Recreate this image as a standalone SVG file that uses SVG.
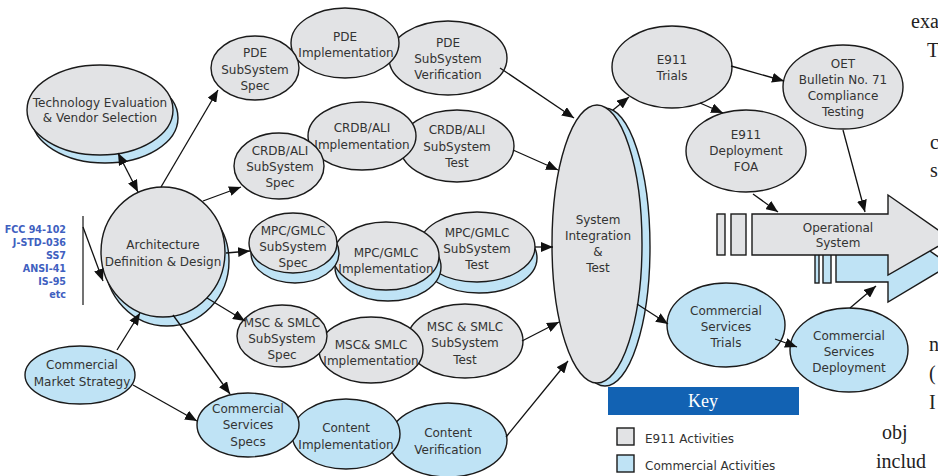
<svg xmlns="http://www.w3.org/2000/svg" width="938" height="476" viewBox="0 0 938 476">
<style>
.g{fill:#e2e3e5;stroke:#1a1a1a;stroke-width:1.4}
.b{fill:#bfe3f5;stroke:#1a1a1a;stroke-width:1.4}
.t{font-family:"DejaVu Sans",sans-serif;font-size:12px;fill:#333;text-anchor:middle}
.l{font-family:"DejaVu Sans",sans-serif;font-size:12px;fill:#333}
.f{font-family:"DejaVu Sans",sans-serif;font-size:9.6px;font-weight:bold;fill:#4060c0;text-anchor:end}
.s{font-family:"Liberation Serif",serif;font-size:20px;fill:#222}
.c{stroke:#111;stroke-width:1.3;fill:none;marker-end:url(#ah)}
</style>
<defs>
<marker id="ah" markerWidth="12" markerHeight="10" refX="12" refY="5" orient="auto-start-reverse" markerUnits="userSpaceOnUse"><path d="M0,0 L12,5 L0,10 z" fill="#111"/></marker>
</defs>
<rect width="938" height="476" fill="#fff"/>

<g id="standards">
<line x1="83" y1="216" x2="83" y2="305" stroke="#444" stroke-width="1.5"/>
<text class="f" x="66" y="233">FCC 94-102</text>
<text class="f" x="66" y="246">J-STD-036</text>
<text class="f" x="66" y="259">SS7</text>
<text class="f" x="66" y="272">ANSI-41</text>
<text class="f" x="66" y="285">IS-95</text>
<text class="f" x="66" y="298">etc</text>
</g>

<g id="tech-eval">
<ellipse class="b" cx="105" cy="118" rx="73" ry="45"/>
<ellipse class="g" cx="100" cy="110" rx="73" ry="45"/>
<text class="t" x="100" y="107">Technology Evaluation</text>
<text class="t" x="100" y="122">&amp; Vendor Selection</text>
</g>

<g id="architecture">
<ellipse class="b" cx="167" cy="261" rx="62" ry="65"/>
<ellipse class="g" cx="163" cy="252" rx="62" ry="65"/>
<text class="t" x="163" y="249">Architecture</text>
<text class="t" x="163" y="266">Definition &amp; Design</text>
</g>

<g id="market-strategy">
<ellipse class="b" cx="80" cy="375" rx="55" ry="29"/>
<text class="t" x="82" y="369">Commercial</text>
<text class="t" x="82" y="386">Market Strategy</text>
</g>

<g id="pde-verif">
<ellipse class="g" cx="448" cy="58" rx="59" ry="37"/>
<text class="t" x="448" y="47">PDE</text>
<text class="t" x="448" y="63">SubSystem</text>
<text class="t" x="448" y="79">Verification</text>
</g>
<g id="pde-impl">
<ellipse class="g" cx="345" cy="43" rx="54" ry="35"/>
<text class="t" x="345" y="41">PDE</text>
<text class="t" x="346" y="57">Implementation</text>
</g>
<g id="pde-spec">
<ellipse class="g" cx="255" cy="68" rx="44" ry="32"/>
<text class="t" x="255" y="57">PDE</text>
<text class="t" x="255" y="74">SubSystem</text>
<text class="t" x="255" y="90">Spec</text>
</g>

<g id="crdb-test">
<ellipse class="g" cx="457" cy="146" rx="57" ry="36"/>
<text class="t" x="457" y="134">CRDB/ALI</text>
<text class="t" x="457" y="151">SubSystem</text>
<text class="t" x="457" y="167">Test</text>
</g>
<g id="crdb-impl">
<ellipse class="g" cx="362" cy="136" rx="54" ry="34"/>
<text class="t" x="362" y="132">CRDB/ALI</text>
<text class="t" x="362" y="149">Implementation</text>
</g>
<g id="crdb-spec">
<ellipse class="g" cx="279" cy="166" rx="45" ry="33"/>
<text class="t" x="280" y="155">CRDB/ALI</text>
<text class="t" x="280" y="171">SubSystem</text>
<text class="t" x="280" y="187">Spec</text>
</g>

<g id="mpc-test">
<ellipse class="b" cx="479" cy="258" rx="58" ry="35"/>
<ellipse class="g" cx="477" cy="247" rx="58" ry="35"/>
<text class="t" x="477" y="237">MPC/GMLC</text>
<text class="t" x="477" y="253">SubSystem</text>
<text class="t" x="477" y="269">Test</text>
</g>
<g id="mpc-impl">
<ellipse class="b" cx="388" cy="267" rx="53" ry="34"/>
<ellipse class="g" cx="386" cy="256" rx="53" ry="34"/>
<text class="t" x="386" y="257">MPC/GMLC</text>
<text class="t" x="386" y="273">Implementation</text>
</g>
<g id="mpc-spec">
<ellipse class="b" cx="295" cy="253" rx="44" ry="30"/>
<ellipse class="g" cx="293" cy="243" rx="44" ry="30"/>
<text class="t" x="293" y="235">MPC/GMLC</text>
<text class="t" x="293" y="251">SubSystem</text>
<text class="t" x="293" y="267">Spec</text>
</g>

<g id="msc-test">
<ellipse class="g" cx="465" cy="341" rx="58" ry="37"/>
<text class="t" x="465" y="331">MSC &amp; SMLC</text>
<text class="t" x="465" y="347">SubSystem</text>
<text class="t" x="465" y="364">Test</text>
</g>
<g id="msc-impl">
<ellipse class="g" cx="371" cy="350" rx="52" ry="33"/>
<text class="t" x="371" y="349">MSC&amp; SMLC</text>
<text class="t" x="371" y="365">Implementation</text>
</g>
<g id="msc-spec">
<ellipse class="g" cx="282" cy="336" rx="45" ry="31"/>
<text class="t" x="282" y="327">MSC &amp; SMLC</text>
<text class="t" x="282" y="343">SubSystem</text>
<text class="t" x="282" y="359">Spec</text>
</g>

<g id="content-verif">
<ellipse class="b" cx="448" cy="440" rx="59" ry="37"/>
<text class="t" x="448" y="437">Content</text>
<text class="t" x="448" y="454">Verification</text>
</g>
<g id="content-impl">
<ellipse class="b" cx="346" cy="434" rx="54" ry="35"/>
<text class="t" x="346" y="432">Content</text>
<text class="t" x="346" y="449">Implementation</text>
</g>
<g id="cs-specs">
<ellipse class="b" cx="248" cy="425" rx="51" ry="32"/>
<text class="t" x="248" y="413">Commercial</text>
<text class="t" x="248" y="429">Services</text>
<text class="t" x="248" y="446">Specs</text>
</g>

<g id="system-integration">
<ellipse class="b" cx="605" cy="247" rx="45" ry="139"/>
<ellipse class="g" cx="597" cy="244" rx="45" ry="139"/>
<text class="t" x="598" y="224">System</text>
<text class="t" x="598" y="240">Integration</text>
<text class="t" x="598" y="256">&amp;</text>
<text class="t" x="598" y="272">Test</text>
</g>

<g id="e911-trials">
<ellipse class="g" cx="672" cy="67" rx="60" ry="41"/>
<text class="t" x="672" y="64">E911</text>
<text class="t" x="672" y="80">Trials</text>
</g>
<g id="oet">
<ellipse class="g" cx="843" cy="87" rx="60" ry="42"/>
<text class="t" x="843" y="68">OET</text>
<text class="t" x="843" y="84">Bulletin No. 71</text>
<text class="t" x="843" y="100">Compliance</text>
<text class="t" x="843" y="116">Testing</text>
</g>
<g id="e911-deploy">
<ellipse class="g" cx="746" cy="151" rx="60" ry="41"/>
<text class="t" x="746" y="139">E911</text>
<text class="t" x="746" y="155">Deployment</text>
<text class="t" x="746" y="171">FOA</text>
</g>

<g id="operational-system">
<rect class="b" x="815" y="241" width="4" height="42"/>
<rect class="b" x="823" y="241" width="8" height="42"/>
<path class="b" d="M836,241 L888,241 L888,222 L950,265 L888,302 L888,282 L836,282 Z"/>
<rect class="g" x="717" y="214" width="8" height="41"/>
<rect class="g" x="731" y="214" width="15" height="41"/>
<path class="g" d="M752,214 L888,214 L888,195 L951,239 L888,275 L888,255 L752,255 Z"/>
<text class="t" x="838" y="232">Operational</text>
<text class="t" x="838" y="247">System</text>
</g>

<g id="cs-trials">
<ellipse class="b" cx="726" cy="325" rx="59" ry="42"/>
<text class="t" x="726" y="315">Commercial</text>
<text class="t" x="726" y="331">Services</text>
<text class="t" x="726" y="347">Trials</text>
</g>
<g id="cs-deploy">
<ellipse class="b" cx="849" cy="350" rx="59" ry="42"/>
<text class="t" x="849" y="340">Commercial</text>
<text class="t" x="849" y="356">Services</text>
<text class="t" x="849" y="372">Deployment</text>
</g>

<g id="connectors">
<path class="c" d="M118,153 L138,192" marker-start="url(#ah)"/>
<path class="c" d="M161,187 L218,90"/>
<path class="c" d="M203,201 L241,187"/>
<path class="c" d="M226,253 L250,251"/>
<path class="c" d="M207,298 L245,321"/>
<path class="c" d="M173,315 L230,394"/>
<path class="c" d="M83,227 L103,281"/>
<path class="c" d="M117,350 L140,313"/>
<path class="c" d="M133,385 L197,421"/>
<path class="c" d="M500,68 L574,118"/>
<path class="c" d="M513,150 L558,170"/>
<path class="c" d="M535,247 L553,247"/>
<path class="c" d="M522,341 L559,322"/>
<path class="c" d="M506,437 L568,361"/>
<path class="c" d="M613,110 L629,97"/>
<path class="c" d="M731,66 L784,81"/>
<path class="c" d="M700,103 L723,113"/>
<path class="c" d="M753,194 L778,212"/>
<path class="c" d="M843,130 L865,212"/>
<path class="c" d="M637,304 L668,324"/>
<path class="c" d="M775,339 L797,347"/>
<path class="c" d="M850,308 L876,286"/>
</g>

<g id="key">
<rect x="608" y="387" width="191" height="28" fill="#1262b3"/>
<text x="703" y="407" font-family="Liberation Serif, serif" font-size="18" fill="#fff" text-anchor="middle">Key</text>
<rect class="g" x="617" y="428" width="17" height="17"/>
<text class="l" x="645" y="443">E911 Activities</text>
<rect class="b" x="617" y="455" width="17" height="17"/>
<text class="l" x="645" y="470">Commercial Activities</text>
</g>

<g id="page-text">
<text class="s" x="911" y="28">exa</text>
<text class="s" x="927" y="57">T</text>
<text class="s" x="930" y="149">c</text>
<text class="s" x="930" y="177">s</text>
<text class="s" x="929" y="351">n</text>
<text class="s" x="929" y="380">(</text>
<text class="s" x="929" y="409">I</text>
<text class="s" x="882" y="439">obj</text>
<text class="s" x="876" y="468">includ</text>
</g>
</svg>
